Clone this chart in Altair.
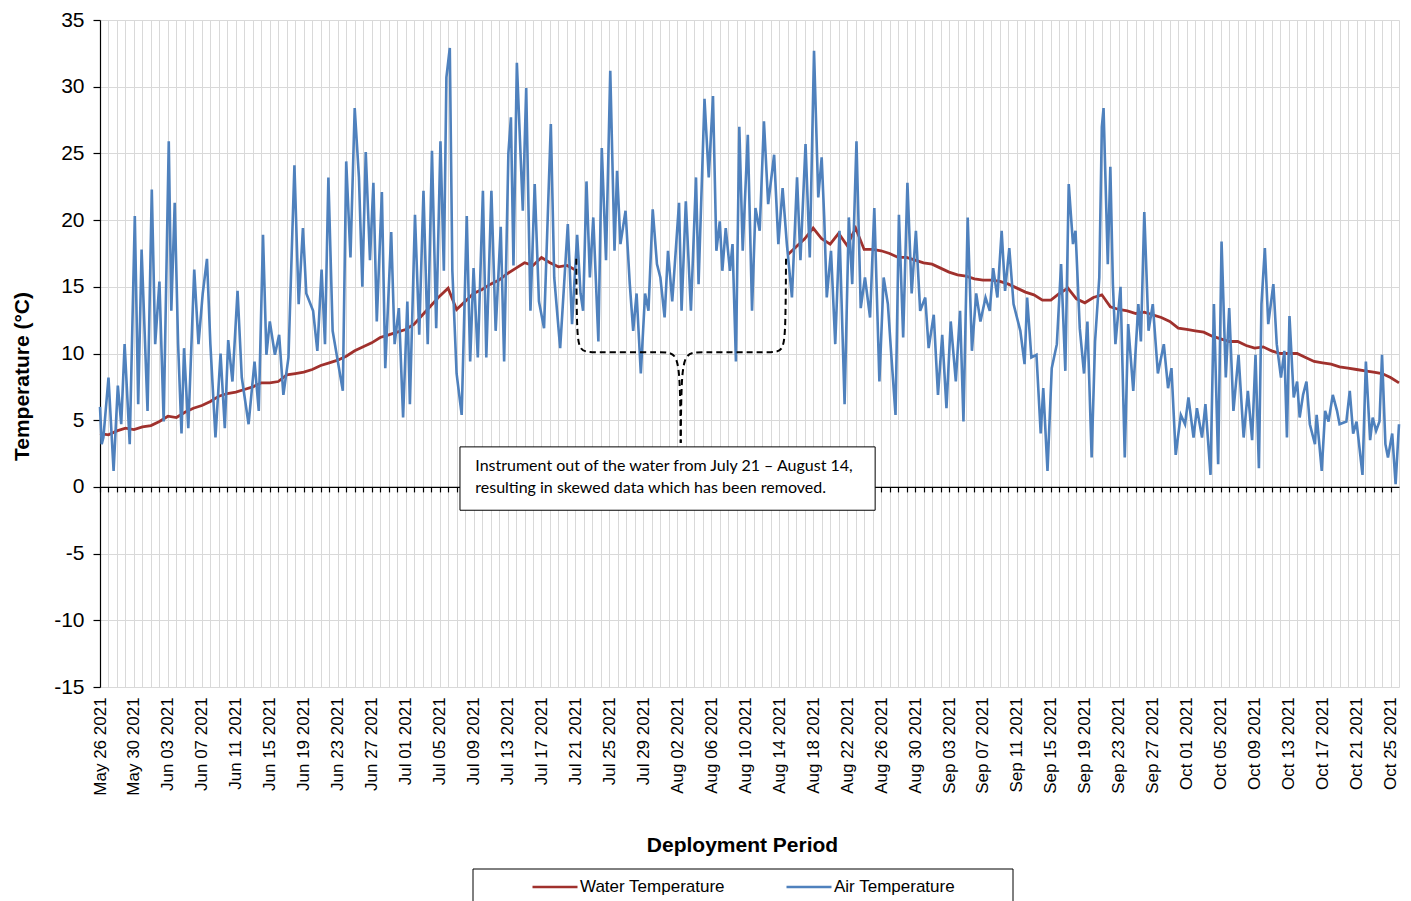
import json
import altair as alt
import pandas as pd

# ---------------- data ----------------
tick_labels = [
    "May 26 2021", "May 30 2021", "Jun 03 2021", "Jun 07 2021", "Jun 11 2021",
    "Jun 15 2021", "Jun 19 2021", "Jun 23 2021", "Jun 27 2021", "Jul 01 2021",
    "Jul 05 2021", "Jul 09 2021", "Jul 13 2021", "Jul 17 2021", "Jul 21 2021",
    "Jul 25 2021", "Jul 29 2021", "Aug 02 2021", "Aug 06 2021", "Aug 10 2021",
    "Aug 14 2021", "Aug 18 2021", "Aug 22 2021", "Aug 26 2021", "Aug 30 2021",
    "Sep 03 2021", "Sep 07 2021", "Sep 11 2021", "Sep 15 2021", "Sep 19 2021",
    "Sep 23 2021", "Sep 27 2021", "Oct 01 2021", "Oct 05 2021", "Oct 09 2021",
    "Oct 13 2021", "Oct 17 2021", "Oct 21 2021", "Oct 25 2021",
]

# days since May 26 2021 00:00
air_day = [
    0.0, 0.2, 0.4, 1.0, 1.6, 2.1, 2.5, 2.9, 3.5, 4.1, 4.5, 4.9, 5.6, 6.1, 6.5, 7.0, 7.5, 8.1, 8.4, 8.8,
    9.2, 9.6, 9.9, 10.4, 11.1, 11.6, 12.1, 12.6, 13.0, 13.6, 14.2, 14.7, 15.1, 15.6, 16.2, 16.7, 17.5, 18.2, 18.7, 19.2,
    19.6, 20.0, 20.6, 21.1, 21.6, 22.2, 22.9, 23.4, 23.9, 24.3, 25.1, 25.6, 26.1, 26.5, 26.9, 27.4, 28.6, 29.0, 29.5, 30.0,
    30.5, 30.9, 31.3, 31.8, 32.2, 32.6, 33.2, 33.6, 34.3, 34.7, 35.2, 35.7, 36.2, 36.5, 37.1, 37.6, 38.1, 38.6, 39.1, 39.6,
    40.1, 40.5, 40.8, 41.2, 41.5, 42.0, 42.6, 43.2, 43.6, 44.0, 44.5, 45.1, 45.5, 46.1, 46.6, 47.2, 47.6, 48.1, 48.4, 48.7,
    49.1, 49.8, 50.2, 50.7, 51.2, 51.7, 52.3, 53.1, 53.5, 54.2, 55.1, 55.6, 56.2, 56.6, 56.9, 57.3, 57.7, 58.1, 58.7, 59.1,
    59.6, 60.1, 60.6, 60.9, 61.3, 61.9, 62.4, 62.8, 63.2, 63.7, 64.2, 64.6, 65.1, 65.6, 66.0, 66.5, 66.9, 67.4, 68.2, 68.5,
    69.0, 69.6, 70.2, 70.5, 71.2, 71.7, 72.2, 72.6, 73.0, 73.3, 73.7, 74.2, 74.5, 74.9, 75.3, 75.7, 76.3, 76.8, 77.2, 77.7,
    78.2, 78.7, 79.4, 79.9, 80.4, 80.9, 81.5, 82.1, 82.5, 83.1, 83.6, 84.1, 84.6, 85.0, 85.3, 85.6, 86.1, 86.6, 87.1, 87.7,
    88.2, 88.6, 89.1, 89.6, 90.1, 90.7, 91.2, 91.8, 92.3, 92.8, 93.2, 93.7, 94.1, 94.6, 95.1, 95.6, 96.1, 96.6, 97.2, 97.6,
    98.2, 98.7, 99.2, 99.7, 100.2, 100.8, 101.3, 101.7, 102.2, 102.7, 103.2, 103.7, 104.3, 104.8, 105.2, 105.7, 106.2, 106.6, 107.1, 107.6,
    108.4, 108.9, 109.2, 109.7, 110.3, 110.8, 111.1, 111.6, 112.1, 112.7, 113.2, 113.7, 114.1, 114.6, 114.9, 115.4, 115.9, 116.3, 116.8, 117.2,
    117.7, 118.0, 118.2, 118.4, 118.7, 119.0, 119.3, 119.6, 120.2, 120.7, 121.1, 121.7, 122.3, 122.6, 123.0, 123.5, 124.0, 124.6, 125.3, 125.8,
    126.2, 126.7, 127.3, 127.8, 128.2, 128.8, 129.2, 129.8, 130.2, 130.8, 131.2, 131.7, 132.1, 132.6, 133.0, 133.5, 134.1, 134.7, 135.2, 135.7,
    136.1, 136.5, 136.8, 137.2, 137.6, 138.2, 138.6, 139.1, 139.5, 139.8, 140.1, 140.6, 141.0, 141.3, 141.7, 142.1, 142.5, 143.1, 143.3, 143.9,
    144.3, 144.7, 145.2, 145.7, 146.0, 146.8, 147.2, 147.6, 148.0, 148.7, 149.1, 149.6, 149.9, 150.3, 150.7, 151.0, 151.4, 151.7, 152.2, 152.6,
    153.0,
]
air_temp = [
    6.0, 3.2, 3.7, 8.2, 1.2, 7.6, 4.7, 10.7, 3.2, 20.3, 6.2, 17.8, 5.7, 22.3, 10.7, 15.4, 4.9, 25.9, 13.2, 21.3,
    10.7, 4.0, 10.4, 4.4, 16.3, 10.7, 14.5, 17.1, 10.7, 3.7, 10.0, 4.4, 11.0, 7.9, 14.7, 8.2, 4.7, 9.4, 5.7, 18.9,
    9.9, 12.4, 9.9, 11.4, 6.9, 9.7, 24.1, 13.7, 19.4, 14.5, 13.2, 10.2, 16.3, 10.7, 23.2, 11.7, 7.2, 24.4, 17.2, 28.4,
    23.2, 15.0, 25.1, 17.0, 22.8, 12.4, 22.1, 8.9, 19.1, 10.7, 13.4, 5.2, 13.9, 6.2, 20.4, 11.4, 22.2, 10.7, 25.2, 11.9,
    25.9, 16.2, 30.7, 32.9, 16.2, 8.5, 5.4, 20.3, 9.4, 16.4, 9.7, 22.2, 9.7, 22.2, 11.7, 19.5, 9.4, 25.0, 27.7, 16.6,
    31.8, 20.7, 29.9, 13.2, 22.7, 13.9, 11.9, 27.2, 15.7, 10.4, 19.7, 12.2, 18.9, 14.5, 13.2, 22.9, 15.7, 20.2, 10.9, 25.4,
    17.0, 31.2, 17.7, 23.7, 18.2, 20.7, 15.2, 11.7, 14.5, 8.5, 14.5, 13.2, 20.8, 16.7, 15.7, 12.7, 17.7, 13.9, 21.3, 13.2,
    21.4, 13.2, 23.2, 15.2, 29.1, 23.2, 29.3, 17.7, 19.9, 16.2, 19.4, 16.2, 18.2, 9.4, 27.0, 17.7, 26.4, 13.2, 20.9, 19.2,
    27.4, 21.2, 24.9, 18.2, 22.4, 18.2, 14.2, 23.2, 17.0, 25.7, 17.2, 32.7, 21.7, 24.7, 20.2, 14.2, 17.7, 10.7, 19.2, 6.2,
    20.2, 15.2, 25.9, 13.4, 15.7, 12.7, 20.9, 7.9, 15.7, 13.7, 9.9, 5.4, 20.4, 11.2, 22.8, 14.5, 19.2, 13.2, 14.2, 10.4,
    12.9, 6.9, 11.4, 5.9, 12.4, 7.9, 13.2, 4.9, 20.2, 10.2, 14.5, 12.4, 14.2, 13.2, 16.4, 14.2, 19.2, 14.7, 17.9, 13.7,
    11.7, 9.2, 14.2, 9.7, 9.9, 4.0, 7.4, 1.2, 8.9, 10.7, 16.7, 8.7, 22.7, 18.2, 19.2, 11.9, 8.5, 12.4, 2.2, 10.9,
    15.7, 27.0, 28.4, 23.7, 16.7, 24.0, 15.2, 10.7, 15.0, 2.2, 12.2, 7.2, 13.7, 10.9, 20.6, 11.7, 13.7, 8.5, 10.7, 7.4,
    8.9, 2.4, 5.4, 4.7, 6.7, 3.7, 5.9, 3.7, 6.2, 0.9, 13.7, 1.7, 18.4, 8.2, 13.4, 5.7, 9.9, 3.7, 7.2, 3.5,
    9.9, 1.4, 13.7, 17.9, 12.2, 15.2, 10.7, 8.2, 10.2, 3.7, 12.8, 6.7, 7.9, 5.2, 6.9, 7.9, 4.7, 3.2, 5.4, 1.2,
    5.7, 4.9, 6.9, 5.7, 4.7, 4.9, 7.2, 4.0, 4.9, 0.9, 9.4, 3.5, 5.2, 4.2, 4.9, 9.9, 3.2, 2.2, 4.0, 0.2,
    4.7,
]

water_day = (
    list(range(0, 56)) + [55.9]
    + list(range(81, 154))
)
water_temp = [
    4.0, 3.9, 4.2, 4.4, 4.3, 4.5, 4.6, 4.9, 5.3, 5.2, 5.6, 5.9, 6.1, 6.4, 6.8, 7.0, 7.1, 7.3, 7.5, 7.8,
    7.8, 7.9, 8.4, 8.5, 8.6, 8.8, 9.1, 9.3, 9.5, 9.8, 10.2, 10.5, 10.8, 11.2, 11.4, 11.6, 11.8, 12.2, 12.9, 13.6,
    14.3, 14.9, 13.3, 13.9, 14.5, 14.8, 15.2, 15.5, 16.0, 16.4, 16.8, 16.6, 17.2, 16.8, 16.5, 16.6, 16.3,
    17.4, 18.0, 18.6, 19.4, 18.6, 18.2, 19.0, 18.1, 19.4, 17.8, 17.8, 17.7, 17.5, 17.2, 17.2, 17.0, 16.8, 16.7, 16.4,
    16.1, 15.9, 15.8, 15.6, 15.5, 15.5, 15.4, 15.2, 14.9, 14.6, 14.4, 14.0, 14.0, 14.5, 14.9, 14.1, 13.8, 14.2, 14.4,
    13.5, 13.3, 13.2, 13.0, 13.1, 12.9, 12.7, 12.4, 11.9, 11.8, 11.7, 11.6, 11.3, 11.1, 10.9, 10.9, 10.6, 10.4, 10.5,
    10.2, 10.0, 10.0, 10.0, 9.7, 9.4, 9.3, 9.2, 9.0, 8.9, 8.8, 8.7, 8.6, 8.5, 8.2, 7.8,
]

brace_side = ["left"] * 8 + ["right"] * 8
brace_day = [56.1, 56.15, 56.4, 58.0, 66.3, 68.1, 68.35, 68.4,
             80.8, 80.75, 80.5, 79.0, 70.6, 68.7, 68.45, 68.4]
brace_temp = [17.1, 12.0, 10.1, 10.1, 10.1, 10.1, 7.0, 3.3,
              17.1, 12.0, 10.1, 10.1, 10.1, 10.1, 7.0, 3.3]

note_box_day = [42.4, 91.3]
note_box_temp = [3.0, -1.75]
note_lines = [
    "Instrument out of the water from July 21 \u2013 August 14,",
    "resulting in skewed data which has been removed.",
]
note_day = [44.2, 44.2]
note_temp = [1.6, -0.05]

series_names = ["Water Temperature", "Air Temperature"]
series_colors = ["#A0312D", "#4F81BD"]

# ---------------- tables ----------------
water_df = pd.DataFrame({"day": water_day, "temp": water_temp})
water_df["series"] = series_names[0]
water_df["seg"] = [1 if d < 60 else 2 for d in water_day]
air_df = pd.DataFrame({"day": air_day, "temp": air_temp})
air_df["series"] = series_names[1]
brace_df = pd.DataFrame({"day": brace_day, "temp": brace_temp, "side": brace_side,
                         "order": list(range(16))})
box_df = pd.DataFrame({"d0": [note_box_day[0]], "d1": [note_box_day[1]],
                       "t0": [note_box_temp[0]], "t1": [note_box_temp[1]]})
note_df = pd.DataFrame({"day": note_day, "temp": note_temp, "text": note_lines})
frame_df = pd.DataFrame({"k": [0]})

FONT = "Liberation Sans, Arial, sans-serif"
W, H = 1299, 667
zero_offset = -(H - H * 35 / 50)   # move the tick axis up to the 0 line

xs = alt.Scale(domain=[0, 153], nice=False, zero=False)
ys = alt.Scale(domain=[-15, 35], nice=False, zero=False)
cs = alt.Scale(domain=series_names, range=series_colors)

legend = alt.Legend(
    orient="none", legendX=431, legendY=843, direction="horizontal", title=None,
    symbolType="stroke", symbolSize=2025, symbolStrokeWidth=2.6,
    labelFont=FONT, labelFontSize=17, labelColor="#000", labelOffset=1,
    columnPadding=56, padding=0,
)

label_expr = ("datum.value % 4 == 0 ? " + json.dumps(tick_labels, ensure_ascii=False)
              + "[datum.value / 4] : ''")

x_grid_axis = alt.Axis(
    orient="bottom", values=list(range(0, 154)), grid=True, gridColor="#D9D9D9",
    gridWidth=1, ticks=False, labels=False, domain=False, title=None,
)
x_tick_axis = alt.Axis(
    orient="bottom", offset=zero_offset, values=list(range(0, 153)), grid=False,
    domain=True, domainColor="#000", domainWidth=1.2,
    ticks=True, tickSize=5, tickColor="#000", tickWidth=1.2,
    labelExpr=label_expr, labelAngle=270, labelAlign="right", labelBaseline="middle",
    labelPadding=205, labelFont=FONT, labelFontSize=17, labelColor="#000",
    labelOverlap=False, labelFlush=False,
    title="Deployment Period", titleX=642, titleY=359, titleAlign="center",
    titleBaseline="middle", titleFont=FONT, titleFontSize=21, titleFontWeight="bold",
    titleColor="#000", titleAngle=0,
)
y_axis = alt.Axis(
    values=list(range(-15, 40, 5)), grid=True, gridColor="#D9D9D9", gridWidth=1,
    domainColor="#000", domainWidth=1.2, tickColor="#000", tickSize=7, tickWidth=1.2,
    labelPadding=9, labelFont=FONT, labelFontSize=21, labelColor="#000",
    labelExpr="datum.value + ''",
    title="Temperature (\u00b0C)", titleX=-78, titleY=356, titleAngle=270,
    titleAlign="center", titleBaseline="middle", titleFont=FONT, titleFontSize=21,
    titleFontWeight="bold", titleColor="#000",
)

water = alt.Chart(water_df).mark_line(strokeWidth=2.8).encode(
    x=alt.X("day:Q", scale=xs, axis=x_grid_axis),
    y=alt.Y("temp:Q", scale=ys, axis=y_axis),
    color=alt.Color("series:N", scale=cs, legend=legend),
    detail="seg:N",
)
air = alt.Chart(air_df).mark_line(strokeWidth=2.6).encode(
    x=alt.X("day:Q", scale=xs, axis=x_tick_axis),
    y=alt.Y("temp:Q", scale=ys, axis=None),
    color=alt.Color("series:N", scale=cs, legend=legend),
)
brace = alt.Chart(brace_df).mark_line(
    interpolate="basis", color="#000", strokeWidth=2, strokeDash=[6, 4]
).encode(
    x=alt.X("day:Q", scale=xs, axis=None),
    y=alt.Y("temp:Q", scale=ys, axis=None),
    detail="side:N", order="order:Q",
)
box = alt.Chart(box_df).mark_rect(fill="#FFFFFF", stroke="#000", strokeWidth=1).encode(
    x=alt.X("d0:Q", scale=xs, axis=None), x2="d1:Q",
    y=alt.Y("t0:Q", scale=ys, axis=None), y2="t1:Q",
)
note = alt.Chart(note_df).mark_text(
    align="left", baseline="middle", font="Lato, Carlito, sans-serif", fontSize=16, color="#000"
).encode(
    x=alt.X("day:Q", scale=xs, axis=None),
    y=alt.Y("temp:Q", scale=ys, axis=None),
    text="text:N",
)
frame = alt.Chart(frame_df).mark_rect(fill="transparent", stroke="#000", strokeWidth=1).encode(
    x=alt.value(373), x2=alt.value(913), y=alt.value(849), y2=alt.value(905),
)

chart = alt.layer(water, air, brace, box, note, frame).resolve_scale(
    x="shared", y="shared", color="shared"
).resolve_axis(x="independent", y="independent").properties(
    width=W, height=H,
    autosize=alt.AutoSizeParams(type="none"),
    padding={"left": 92, "top": 12, "right": 4, "bottom": 230},
    background="#FFFFFF",
).configure_view(stroke=None)

chart.save("out.html", embed_options={"renderer": "svg", "actions": False})
